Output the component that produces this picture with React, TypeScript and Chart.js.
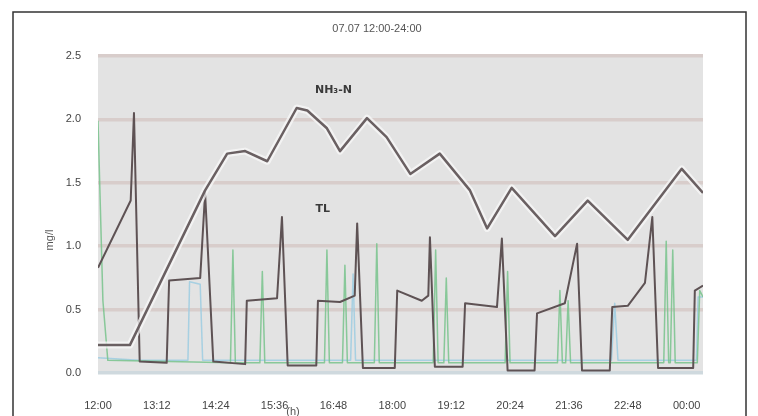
import React, { useEffect, useRef } from "react";
import { Chart, registerables } from "chart.js";

Chart.register(...registerables);

const chartTitle = "07.07 12:00-24:00";
const yAxisTitle = "mg/l";
const xAxisTitle = "(h)";
const nh3Label = "NH₃-N";
const tlLabel = "TL";

const xTickMinutes = [0, 72, 144, 216, 288, 360, 432, 504, 576, 648, 720];
const xTickLabels = ["12:00", "13:12", "14:24", "15:36", "16:48", "18:00", "19:12", "20:24", "21:36", "22:48", "00:00"];
const yTickValues = [0, 0.5, 1.0, 1.5, 2.0, 2.5];

// NH3-N (minutes since 12:00, mg/l)
const nh3Minutes = [0, 39, 131, 158, 180, 207, 243, 256, 280, 296, 329, 353, 382, 418, 455, 476, 506, 559, 599, 648, 714, 740];
const nh3Values = [0.22, 0.22, 1.44, 1.73, 1.75, 1.67, 2.09, 2.07, 1.93, 1.75, 2.01, 1.86, 1.57, 1.73, 1.44, 1.14, 1.46, 1.08, 1.36, 1.05, 1.61, 1.42];

// TL
const tlMinutes = [0, 40, 44, 51, 84, 87, 125, 131, 141, 180, 182, 219, 225, 232, 267, 269, 296, 314, 317, 324, 363, 366, 396, 404, 406, 412, 446, 449, 488, 494, 501, 534, 537, 571, 586, 592, 626, 629, 648, 669, 678, 685, 728, 730, 740];
const tlValues = [0.83, 1.36, 2.05, 0.09, 0.08, 0.73, 0.75, 1.42, 0.09, 0.07, 0.57, 0.59, 1.23, 0.06, 0.06, 0.57, 0.56, 0.61, 1.18, 0.04, 0.04, 0.65, 0.57, 0.61, 1.07, 0.05, 0.05, 0.55, 0.52, 1.06, 0.02, 0.02, 0.47, 0.55, 1.02, 0.02, 0.02, 0.52, 0.53, 0.71, 1.23, 0.04, 0.04, 0.65, 0.69];

// green series
const greenMinutes = [0, 6, 12, 162, 165, 168, 198, 201, 204, 277, 280, 283, 299, 302, 305, 338, 341, 344, 410, 413, 416, 423, 426, 429, 498, 501, 504, 562, 565, 568, 572, 575, 578, 692, 695, 698, 700, 703, 706, 733, 736, 740];
const greenValues = [1.99, 0.57, 0.1, 0.08, 0.97, 0.08, 0.08, 0.8, 0.08, 0.08, 0.97, 0.08, 0.08, 0.85, 0.08, 0.08, 1.02, 0.08, 0.08, 0.97, 0.08, 0.08, 0.75, 0.08, 0.08, 0.8, 0.08, 0.08, 0.65, 0.08, 0.08, 0.57, 0.08, 0.08, 1.04, 0.08, 0.08, 0.97, 0.08, 0.08, 0.65, 0.6];

// light blue series
const blueMinutes = [0, 50, 110, 112, 125, 128, 309, 312, 315, 628, 632, 636, 732, 734, 740];
const blueValues = [0.12, 0.1, 0.1, 0.72, 0.7, 0.1, 0.1, 0.78, 0.1, 0.1, 0.55, 0.1, 0.1, 0.6, 0.6];

const toPoints = (xs: number[], ys: number[]) => xs.map((x, i) => ({ x, y: ys[i] }));

export default function App() {
  const ref = useRef<HTMLCanvasElement | null>(null);

  useEffect(() => {
    if (!ref.current) return;
    const decor = {
      id: "decor",
      beforeDraw(chart: any) {
        const { ctx, chartArea } = chart;
        ctx.save();
        ctx.fillStyle = "#ffffff";
        ctx.fillRect(0, 0, chart.width, chart.height);
        ctx.fillStyle = "#e3e3e3";
        ctx.fillRect(chartArea.left, chartArea.top, chartArea.right - chartArea.left, chartArea.bottom - chartArea.top);
        ctx.restore();
      },
      afterDraw(chart: any) {
        const { ctx } = chart;
        ctx.save();
        ctx.strokeStyle = "#333";
        ctx.lineWidth = 1.5;
        ctx.strokeRect(13, 12, 733, 440);
        ctx.fillStyle = "#555";
        ctx.font = "11px 'Liberation Sans', Arial, sans-serif";
        ctx.textAlign = "center";
        ctx.textBaseline = "middle";
        ctx.fillText(chartTitle, 377, 29);
        ctx.fillText(xAxisTitle, 293, 412);
        ctx.save();
        ctx.translate(50, 240);
        ctx.rotate(-Math.PI / 2);
        ctx.fillText(yAxisTitle, 0, 0);
        ctx.restore();
        const xs = chart.scales.x;
        const ys = chart.scales.y;
        ctx.fillStyle = "#3a3a3a";
        ctx.font = "bold 11px 'DejaVu Sans', sans-serif";
        ctx.fillText(nh3Label, xs.getPixelForValue(288), ys.getPixelForValue(2.23));
        ctx.fillText(tlLabel, xs.getPixelForValue(275), ys.getPixelForValue(1.29));
        ctx.restore();
      },
    };

    const chart = new Chart(ref.current, {
      type: "line",
      data: {
        datasets: [
          {
            label: "NH3-N",
            data: toPoints(nh3Minutes, nh3Values),
            borderColor: "#6a6062",
            borderWidth: 2.5,
            pointRadius: 0,
          },
          {
            label: "halo",
            data: toPoints(nh3Minutes, nh3Values),
            borderColor: "rgba(248,248,248,0.75)",
            borderWidth: 7,
            pointRadius: 0,
          },
          {
            label: "TL",
            data: toPoints(tlMinutes, tlValues),
            borderColor: "#5e5254",
            borderWidth: 2,
            pointRadius: 0,
          },
          {
            label: "green",
            data: toPoints(greenMinutes, greenValues),
            borderColor: "rgba(120,195,140,0.85)",
            borderWidth: 1.5,
            pointRadius: 0,
          },
          {
            label: "blue",
            data: toPoints(blueMinutes, blueValues),
            borderColor: "rgba(160,205,225,0.9)",
            borderWidth: 1.5,
            pointRadius: 0,
          },
        ],
      },
      options: {
        animation: false,
        responsive: false,
        layout: { padding: { top: 56, right: 55, bottom: 0, left: 0 } },
        plugins: { legend: { display: false }, tooltip: { enabled: false }, title: { display: false } },
        elements: { line: { tension: 0, borderJoinStyle: "round", fill: false } },
        scales: {
          x: {
            type: "linear",
            min: 0,
            max: 740,
            afterBuildTicks: (s: any) => {
              s.ticks = xTickMinutes.map((v) => ({ value: v }));
            },
            afterFit: (s: any) => {
              s.height = 43;
            },
            grid: { display: false },
            border: { display: false },
            ticks: {
              autoSkip: false,
              maxRotation: 0,
              padding: 18,
              color: "#444",
              font: { size: 11, family: "'Liberation Sans', Arial, sans-serif" },
              callback: (v: any) => {
                const i = xTickMinutes.indexOf(Number(v));
                return i >= 0 ? xTickLabels[i] : "";
              },
            },
          },
          y: {
            type: "linear",
            min: 0,
            max: 2.5,
            afterBuildTicks: (s: any) => {
              s.ticks = yTickValues.map((v) => ({ value: v }));
            },
            afterFit: (s: any) => {
              s.width = 98;
            },
            border: { display: false },
            grid: {
              drawTicks: false,
              lineWidth: 3.5,
              color: (c: any) => (c.tick && c.tick.value === 0 ? "#cfd9de" : "#d8cdcb"),
            },
            ticks: {
              padding: 17,
              color: "#444",
              font: { size: 11, family: "'Liberation Sans', Arial, sans-serif" },
              callback: (v: any) => Number(v).toFixed(1),
            },
          },
        },
      },
      plugins: [decor],
    });
    return () => chart.destroy();
  }, []);

  return (
    <div style={{ position: "fixed", left: 0, top: 0, width: 758, height: 416 }}>
      <canvas ref={ref} width={758} height={416} style={{ display: "block" }} />
    </div>
  );
}
